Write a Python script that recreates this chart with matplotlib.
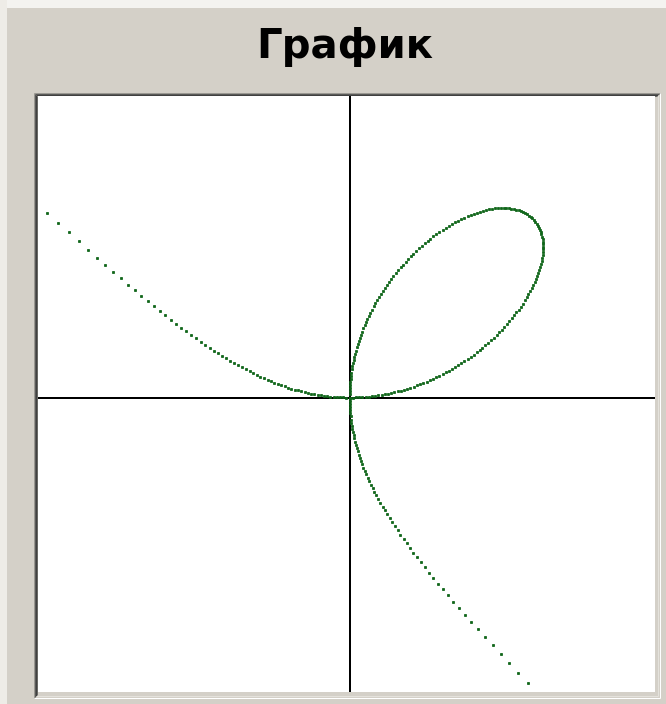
import numpy as np
import matplotlib
matplotlib.use("Agg")
import matplotlib.pyplot as plt
from matplotlib.patches import Rectangle
from matplotlib.lines import Line2D

# Folium of Descartes x^3 + y^3 = 3*a*x*y, sampled in polar form
A = 2.0                 # folium parameter
THETA_STEP = np.pi / 360
R_MAX = 5.95            # points farther than this from the origin are not drawn
XLIM = (-5.11, 5.01)
YLIM = (-4.93, 5.05)
TITLE = "График"

W, H = 666, 704
DPI = 100
WINDOW_GRAY = "#D4D0C8"
CURVE_COLOR = "#10661a"

theta = np.arange(0.0, np.pi, THETA_STEP)
s, c = np.sin(theta), np.cos(theta)
denom = s ** 3 + c ** 3
with np.errstate(divide="ignore", invalid="ignore"):
    r = 3 * A * s * c / denom
keep = np.isfinite(r) & (np.abs(r) <= R_MAX)
x = (r * c)[keep]
y = (r * s)[keep]

fig = plt.figure(figsize=(W / DPI, H / DPI), dpi=DPI, facecolor=WINDOW_GRAY)

# window chrome drawn in pixel coordinates
bg = fig.add_axes([0, 0, 1, 1])
bg.set_xlim(0, W)
bg.set_ylim(H, 0)
bg.axis("off")
bg.add_patch(Rectangle((0, 0), W, 8, color="#f4f3f0", lw=0))
bg.add_patch(Rectangle((0, 0), 7, H, color="#eeece7", lw=0))

# sunken frame around the plotting area
L, T, R, B = 38, 96, 655, 692
def seg(x0, y0, x1, y1, col, lw=1):
    bg.add_line(Line2D([x0, x1], [y0, y1], color=col, lw=lw * 72 / DPI,
                       solid_capstyle="butt"))
seg(33.5, 92.5, 659.5, 92.5, "#9a9892", 1)
seg(33.5, 92.5, 33.5, 697.5, "#9a9892", 1)
seg(34.5, 93.5, 658.5, 93.5, "#5a5a58", 1)
seg(34.5, 93.5, 34.5, 696.5, "#5a5a58", 1)
seg(35.5, 94.5, 657.5, 94.5, "#404040", 1)
seg(35.5, 94.5, 35.5, 695.5, "#404040", 1)
seg(36.5, 95.5, 656.5, 95.5, "#6a6a66", 1)
seg(36.5, 95.5, 36.5, 694.5, "#6a6a66", 1)
seg(657.5, 94.5, 657.5, 695.5, "#e4e2dc", 1)
seg(35.5, 695.5, 657.5, 695.5, "#e4e2dc", 1)
seg(659.5, 92.5, 659.5, 697.5, "#ffffff", 1)
seg(33.5, 697.5, 659.5, 697.5, "#ffffff", 1)

fig.text(345 / W, 1 - 47 / H, TITLE, ha="center", va="center",
         fontsize=29, fontweight="bold", family="DejaVu Sans", color="#000000")

ax = fig.add_axes([L / W, 1 - B / H, (R - L) / W, (B - T) / H])
ax.set_facecolor("white")
ax.set_xlim(*XLIM)
ax.set_ylim(*YLIM)
for sp in ax.spines.values():
    sp.set_visible(False)
ax.set_xticks([])
ax.set_yticks([])

ax.axhline(0, color="black", lw=2.0 * 72 / DPI)
ax.axvline(0, color="black", lw=2.0 * 72 / DPI)
ax.plot(x, y, linestyle="none", marker="s", markersize=1.4,
        markeredgewidth=0.6, markeredgecolor=CURVE_COLOR, color=CURVE_COLOR)

fig.savefig("out.png", dpi=DPI, facecolor=WINDOW_GRAY)
